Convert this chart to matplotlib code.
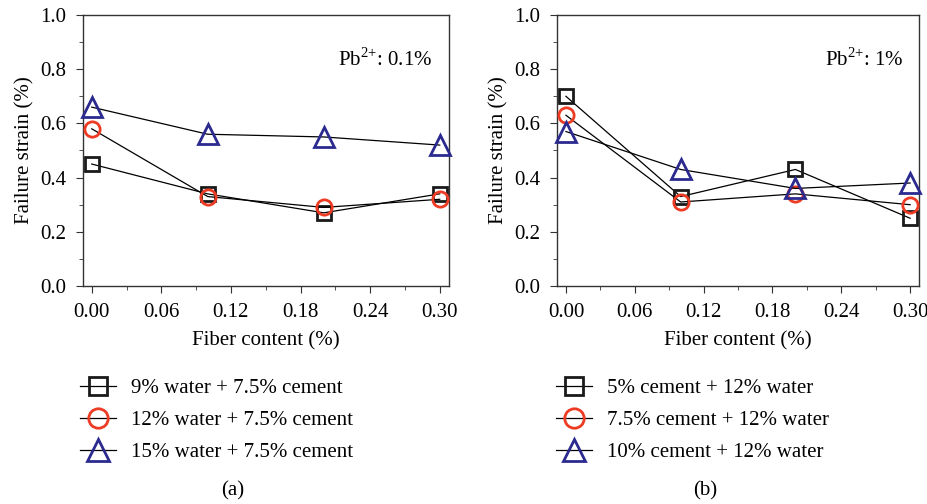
import matplotlib.pyplot as plt
from matplotlib.ticker import MultipleLocator
from matplotlib.lines import Line2D

plt.rcParams['font.family'] = 'Liberation Serif'
plt.rcParams['mathtext.fontset'] = 'custom'
plt.rcParams['mathtext.rm'] = 'Liberation Serif'

fiber = [0.0, 0.1, 0.2, 0.3]

# (a) Pb2+ 0.1%
a_labels = ['9% water + 7.5% cement', '12% water + 7.5% cement', '15% water + 7.5% cement']
a_sq = [0.45, 0.34, 0.27, 0.34]
a_ci = [0.58, 0.33, 0.29, 0.32]
a_tr = [0.66, 0.56, 0.55, 0.52]

# (b) Pb2+ 1%
b_labels = ['5% cement + 12% water', '7.5% cement + 12% water', '10% cement + 12% water']
b_sq = [0.70, 0.33, 0.43, 0.25]
b_ci = [0.63, 0.31, 0.34, 0.30]
b_tr = [0.57, 0.43, 0.36, 0.38]

colors = ['#1a1a1a', '#ee3b24', '#2b2a8f']
markers = ['s', 'o', '^']
msizes = [10, 11, 14]
leg_ms = [13, 14, 16]

W, H = 928, 504
FS = 15
fig = plt.figure(figsize=(W / 100, H / 100), dpi=100)


def panel(left, right, series, labels, note, note_x, cap, cap_x, leg_x):
    ax = fig.add_axes([left / W, (H - 286) / H, (right - left) / W, (286 - 15) / H])
    for ys, c, m, ms in zip(series, colors, markers, msizes):
        ax.plot(fiber, ys, color='black', lw=0.9, marker=m, ms=ms,
                mfc='none', mec=c, mew=2, zorder=3, clip_on=False)
    ax.set_xlim(-0.0078, 0.308)
    ax.set_ylim(0, 1.0)
    ax.xaxis.set_major_locator(MultipleLocator(0.06))
    ax.xaxis.set_minor_locator(MultipleLocator(0.03))
    ax.yaxis.set_major_locator(MultipleLocator(0.2))
    ax.yaxis.set_minor_locator(MultipleLocator(0.1))
    ax.xaxis.set_major_formatter(lambda v, p: f'{v:.2f}')
    ax.yaxis.set_major_formatter(lambda v, p: f'{v:.1f}')
    ax.tick_params(which='both', direction='out', labelsize=FS, color='#333333', pad=7)
    ax.tick_params(which='major', length=5)
    ax.tick_params(which='minor', length=3)
    for s in ax.spines.values():
        s.set_color('#333333')
        s.set_linewidth(1)
    ax.set_xlabel('Fiber content (%)', fontsize=FS, labelpad=7)
    ax.set_ylabel('Failure strain (%)', fontsize=FS, labelpad=4)
    ax.text(note_x, 0.834, note, fontsize=FS, va='center')
    handles = [Line2D([0], [0], color='black', lw=0.9, marker=m, ms=ms,
                      mfc='none', mec=c, mew=2)
               for c, m, ms in zip(colors, markers, leg_ms)]
    fig.legend(handles, labels, loc='upper left', frameon=False, fontsize=FS,
               bbox_to_anchor=(leg_x / W, (H - 370) / H), handlelength=1.7,
               handletextpad=0.75, labelspacing=0.6, borderaxespad=0)
    fig.text(cap_x / W, (H - 491) / H, cap, fontsize=FS, ha='center', va='center')
    return ax


panel(82.7, 449, [a_sq, a_ci, a_tr], a_labels, 'Pb$^{2{+}}$: 0.1%', 0.212,
      '(a)', 233, 72)
panel(557, 919.3, [b_sq, b_ci, b_tr], b_labels, 'Pb$^{2{+}}$: 1%', 0.226,
      '(b)', 705, 548)

fig.savefig('out.png', dpi=100)
